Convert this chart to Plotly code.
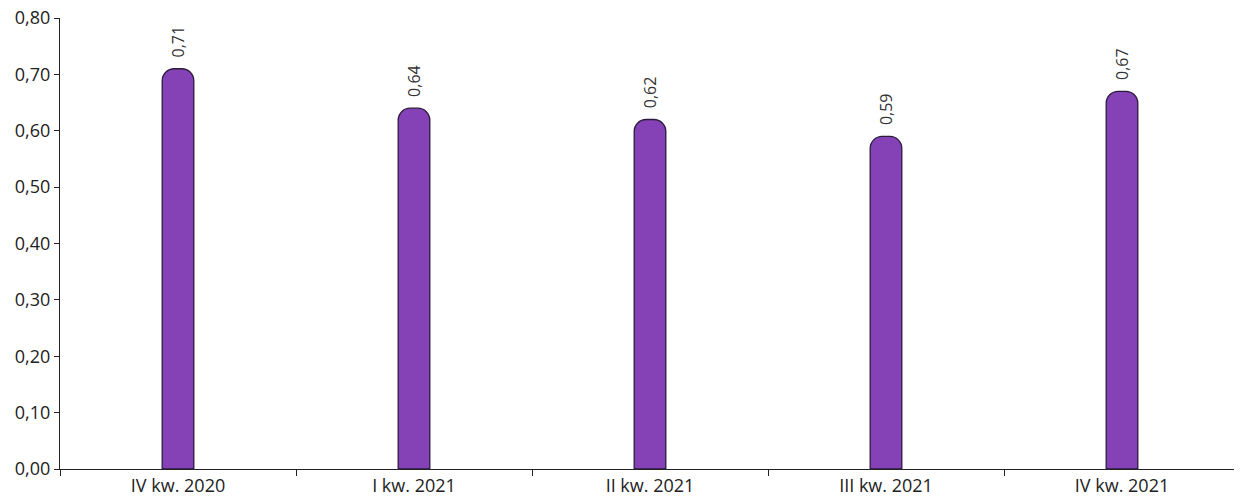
import plotly.graph_objects as go

categories = ["IV kw. 2020", "I kw. 2021", "II kw. 2021", "III kw. 2021", "IV kw. 2021"]
values = [0.71, 0.64, 0.62, 0.59, 0.67]
labels = ["0,71", "0,64", "0,62", "0,59", "0,67"]

NB = "\u00a0\u00a0"
fig = go.Figure(go.Bar(
    x=categories, y=values, text=[NB + t for t in labels],
    textposition="outside", textangle=-90, constraintext="none",
    textfont=dict(family="Open Sans", size=16, color="#333333"),
    marker=dict(color="#8542B6", line=dict(color="#2B1B3B", width=1.3), cornerradius=12),
    width=0.134, cliponaxis=False,
))
fig.update_layout(
    width=1234, height=489,
    margin=dict(l=52, r=2, t=10, b=28, autoexpand=False),
    plot_bgcolor="white", paper_bgcolor="white",
    separators=", ",
    font=dict(family="Open Sans", size=18, color="#222222"),
    showlegend=False,
)
fig.update_xaxes(showline=True, linecolor="#222222", linewidth=1.2, ticks="outside",
                 tickson="boundaries", ticklen=6, tickcolor="#222222", showgrid=False,
                 automargin=False, ticklabeloverflow="allow")
fig.update_yaxes(range=[0, 0.8], dtick=0.1, tickformat=".2f", showline=True,
                 linecolor="#222222", linewidth=1.2, ticks="outside", ticklen=5,
                 tickcolor="#222222", showgrid=False, zeroline=False, automargin=False,
                 ticklabeloverflow="allow")
fig.write_html("out.html")
